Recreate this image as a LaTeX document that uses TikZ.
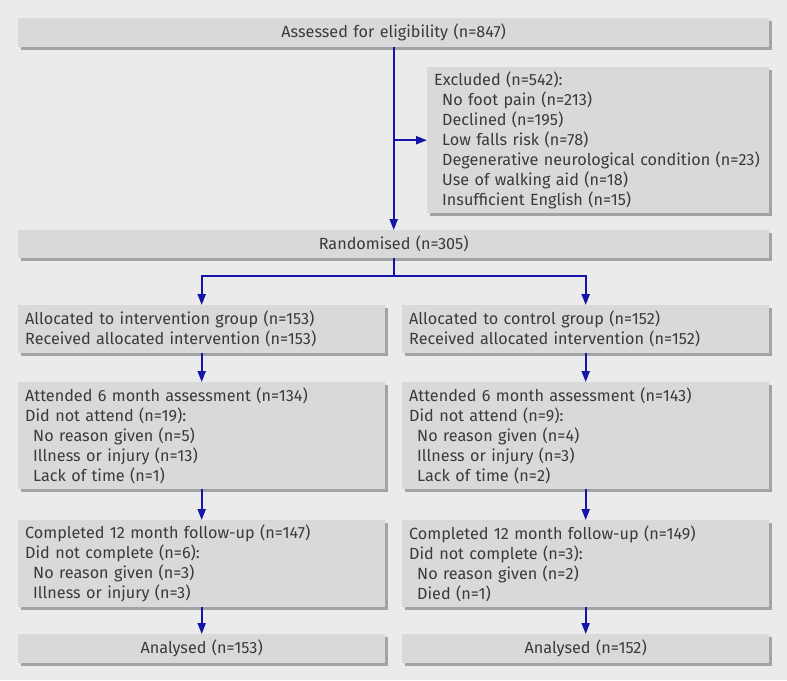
\documentclass[tikz,border=0pt]{standalone}
\usepackage{fontspec}
\setmainfont{Fira Sans}
\usepackage{xcolor}
\usepackage{tikz}
\usetikzlibrary{arrows.meta,shadows}
\definecolor{flowPaper}{HTML}{EBEBEB}
\definecolor{flowBox}{HTML}{D9D9D9}
\definecolor{flowShade}{HTML}{A3A3A3}
\definecolor{flowInk}{HTML}{3A3A3A}
\definecolor{flowBlue}{HTML}{1414A8}
\newcommand{\sub}{\hspace*{8pt}}

\begin{document}
\begin{tikzpicture}[x=1pt,y=-1pt,
  card/.style={fill=flowBox,text=flowInk,anchor=north west,inner xsep=7pt,inner ysep=0pt,
    font=\fontsize{16.2}{20}\selectfont,
    drop shadow={shadow xshift=3pt,shadow yshift=-3pt,fill=flowShade,opacity=1}},
  wide/.style={card,minimum width=751pt,text width=737pt,align=center},
  half/.style={card,minimum width=367pt,text width=353pt,align=left},
  flow/.style={flowBlue,line width=2pt},
  flowto/.style={flow,-{Triangle[length=11pt,width=8pt]}}]
  \fill[flowPaper] (0,0) rectangle (787,680);
  \node[wide,minimum height=29pt] (assess) at (18,18) {Assessed for eligibility (n=847)};
  \node[card,minimum width=342pt,text width=328pt,minimum height=146pt,align=left] (excl) at (427,67) {Excluded (n=542):\\
    \sub No foot pain (n=213)\\
    \sub Declined (n=195)\\
    \sub Low falls risk (n=78)\\
    \sub Degenerative neurological condition (n=23)\\
    \sub Use of walking aid (n=18)\\
    \sub Insufficient English (n=15)};
  \node[wide,minimum height=28pt] (rand) at (18,230) {Randomised (n=305)};
  \node[half,minimum height=48pt] (allocI) at (18,305) {Allocated to intervention group (n=153)\\Received allocated intervention (n=153)};
  \node[half,minimum height=48pt] (allocC) at (402,305) {Allocated to control group (n=152)\\Received allocated intervention (n=152)};
  \node[half,minimum height=107pt] (sixI) at (18,382) {Attended 6 month assessment (n=134)\\Did not attend (n=19):\\
    \sub No reason given (n=5)\\\sub Illness or injury (n=13)\\\sub Lack of time (n=1)};
  \node[half,minimum height=107pt] (sixC) at (402,382) {Attended 6 month assessment (n=143)\\Did not attend (n=9):\\
    \sub No reason given (n=4)\\\sub Illness or injury (n=3)\\\sub Lack of time (n=2)};
  \node[half,minimum height=87pt] (twelveI) at (18,520) {Completed 12 month follow-up (n=147)\\Did not complete (n=6):\\
    \sub No reason given (n=3)\\\sub Illness or injury (n=3)};
  \node[half,minimum height=87pt] (twelveC) at (402,520) {Completed 12 month follow-up (n=149)\\Did not complete (n=3):\\
    \sub No reason given (n=2)\\\sub Died (n=1)};
  \node[half,minimum height=29pt,align=center] (anaI) at (18,634) {Analysed (n=153)};
  \node[half,minimum height=29pt,align=center] (anaC) at (402,634) {Analysed (n=152)};
  \draw[flowto] (assess.south) -- (rand.north);
  \draw[flowto] (assess.south |- excl.west) -- (excl.west);
  \draw[flow] (rand.south) -- ++(0,18) coordinate (split);
  \draw[flowto] (split) -| (allocI.north);
  \draw[flowto] (split) -| (allocC.north);
  \draw[flowto] (allocI) -- (sixI);
  \draw[flowto] (allocC) -- (sixC);
  \draw[flowto] (sixI) -- (twelveI);
  \draw[flowto] (sixC) -- (twelveC);
  \draw[flowto] (twelveI) -- (anaI);
  \draw[flowto] (twelveC) -- (anaC);
\end{tikzpicture}
\end{document}
